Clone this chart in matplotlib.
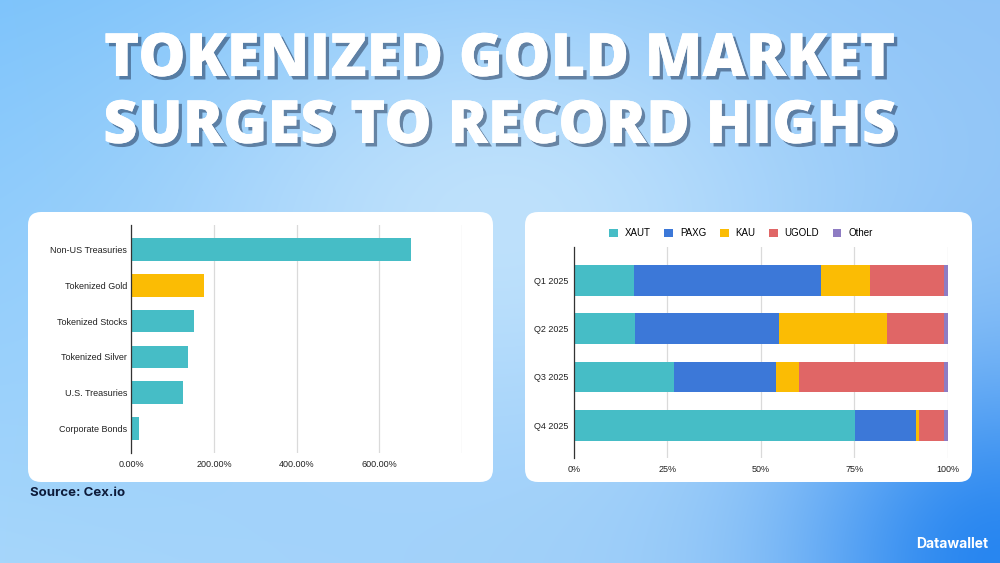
import numpy as np
import matplotlib.pyplot as plt
from matplotlib.patches import FancyBboxPatch, Patch
import matplotlib.patheffects as pe

# Left chart data (growth, %)
assets = ['Non-US Treasuries', 'Tokenized Gold', 'Tokenized Stocks',
          'Tokenized Silver', 'U.S. Treasuries', 'Corporate Bonds']
growth = [677, 175, 152, 137, 124, 19]
growth_ticks = [0, 200, 400, 600, 800]
growth_labels = ['0.00%', '200.00%', '400.00%', '600.00%', '']

# Right chart data (market share, %)
quarters = ['Q1 2025', 'Q2 2025', 'Q3 2025', 'Q4 2025']
xaut = [16.2, 16.4, 26.7, 75.3]
paxg = [49.9, 38.5, 27.5, 16.3]
kau = [13.2, 28.8, 6.0, 0.6]
ugold = [19.7, 15.3, 38.8, 6.8]
other = [1.0, 1.0, 1.0, 1.0]
share_ticks = [0, 25, 50, 75, 100]
share_labels = ['0%', '25%', '50%', '75%', '100%']

teal = '#46bdc6'
blue = '#3c78d8'
gold = '#fbbc04'
red = '#e06666'
purple = '#8e7cc3'

W, H = 1000, 563
fig = plt.figure(figsize=(10, 5.63), dpi=100)

# background gradient
yy, xx = np.mgrid[0:H, 0:W]
u = xx / W
v = yy / H
tl = np.array([124, 195, 251])
tr = np.array([142, 195, 247])
bl = np.array([166, 214, 251])
br = np.array([150, 200, 248])
base = ((1 - u)[..., None] * (1 - v)[..., None] * tl + u[..., None] * (1 - v)[..., None] * tr
        + (1 - u)[..., None] * v[..., None] * bl + u[..., None] * v[..., None] * br)
w_hi = np.exp(-(((xx - 500) / 330) ** 2 + ((yy - 220) / 230) ** 2))
base = base * (1 - w_hi[..., None]) + np.array([190, 225, 252]) * w_hi[..., None]
w_bl = np.exp(-(((xx - W) ** 2 + (yy - H) ** 2) / 200 ** 2))
base = base * (1 - w_bl[..., None]) + np.array([40, 134, 240]) * w_bl[..., None]
bg = fig.add_axes([0, 0, 1, 1])
bg.imshow(base / 255, extent=[0, 1, 0, 1], aspect='auto')
bg.set_axis_off()
bg.set_zorder(-5)

def fx(px):
    return px / W

def fy(py):
    return 1 - py / H

# white panels, drawn as axes backgrounds below the chart axes
for x0, x1 in [(28, 493), (525, 972)]:
    pax = fig.add_axes([fx(x0), fy(482), fx(x1 - x0), (482 - 212) / H])
    pax.set_zorder(-2)
    pax.set_axis_off()
    pax.set_xlim(0, x1 - x0)
    pax.set_ylim(0, 270)
    pax.add_patch(FancyBboxPatch((0, 0), x1 - x0, 270,
                                 boxstyle='round,pad=0,rounding_size=13',
                                 facecolor='white', edgecolor='none', clip_on=False))

# title
title_font = ['Open Sans', 'DejaVu Sans']
for txt, ty in [('TOKENIZED GOLD MARKET', 60), ('SURGES TO RECORD HIGHS', 127)]:
    fig.text(0.5, fy(ty), txt, ha='center', va='center', color='white',
             fontsize=43, fontweight='heavy', family=title_font,
             path_effects=[pe.withSimplePatchShadow(offset=(2.5, -2.5),
                                                    shadow_rgbFace='#1c2f4f', alpha=0.5),
                           pe.Normal()])

tick_font = ['Liberation Sans', 'DejaVu Sans']

# left chart
ax1 = fig.add_axes([fx(131.3), fy(453), fx(330.4), 228 / H])
ax1.set_facecolor('none')
ypos = np.arange(len(assets))
colors1 = [teal, gold, teal, teal, teal, teal]
ax1.barh(ypos, growth, height=0.63, color=colors1, zorder=3)
ax1.set_xlim(0, 800)
ax1.set_ylim(5.68, -0.68)
ax1.set_xticks(growth_ticks)
ax1.set_xticklabels(growth_labels)
ax1.set_yticks(ypos)
ax1.set_yticklabels(assets)
ax1.grid(axis='x', color='#dadada', linewidth=0.9, zorder=0)
for s in ['top', 'right', 'bottom']:
    ax1.spines[s].set_visible(False)
ax1.spines['left'].set_color('#333333')
ax1.spines['left'].set_linewidth(0.9)
ax1.spines['left'].set_zorder(4)
ax1.tick_params(length=0, labelsize=6.5, labelcolor='#222222', pad=3)
ax1.tick_params(axis='x', pad=5)
for lab in ax1.get_xticklabels() + ax1.get_yticklabels():
    lab.set_family(tick_font)

# right chart
ax2 = fig.add_axes([fx(573.7), fy(458), fx(374), 211.3 / H])
ax2.set_facecolor('none')
qpos = np.arange(len(quarters))
left = np.zeros(len(quarters))
series = [('XAUT', xaut, teal), ('PAXG', paxg, blue), ('KAU', kau, gold),
          ('UGOLD', ugold, red), ('Other', other, purple)]
for name, vals, col in series:
    ax2.barh(qpos, vals, left=left, height=0.64, color=col, zorder=3)
    left = left + np.array(vals)
ax2.set_xlim(0, 100)
ax2.set_ylim(3.68, -0.7)
ax2.set_xticks(share_ticks)
ax2.set_xticklabels(share_labels)
ax2.set_yticks(qpos)
ax2.set_yticklabels(quarters)
ax2.grid(axis='x', color='#dadada', linewidth=0.9, zorder=0)
for s in ['top', 'right', 'bottom']:
    ax2.spines[s].set_visible(False)
ax2.spines['left'].set_color('#333333')
ax2.spines['left'].set_linewidth(0.9)
ax2.spines['left'].set_zorder(4)
ax2.tick_params(length=0, labelsize=6.5, labelcolor='#222222', pad=3.5)
ax2.tick_params(axis='x', pad=5)
for lab in ax2.get_xticklabels() + ax2.get_yticklabels():
    lab.set_family(tick_font)

handles = [Patch(facecolor=c, label=n) for n, _, c in series]
fig.legend(handles=handles, loc='center', bbox_to_anchor=(fx(741), fy(233)),
           ncol=5, frameon=False, handlelength=0.9, handleheight=0.9,
           handletextpad=0.7, columnspacing=1.4,
           prop={'family': tick_font, 'size': 7})

# source and brand
fig.text(fx(30), fy(493), 'Source: Cex.io', ha='left', va='center',
         fontsize=9.5, fontweight='bold', color='#0d1b3a', family=['Inter', 'DejaVu Sans'])
fig.text(fx(988), fy(544), 'Datawallet', ha='right', va='center',
         fontsize=10, fontweight='bold', color='white', family=['Inter', 'DejaVu Sans'])

fig.savefig('out.png', dpi=100)
